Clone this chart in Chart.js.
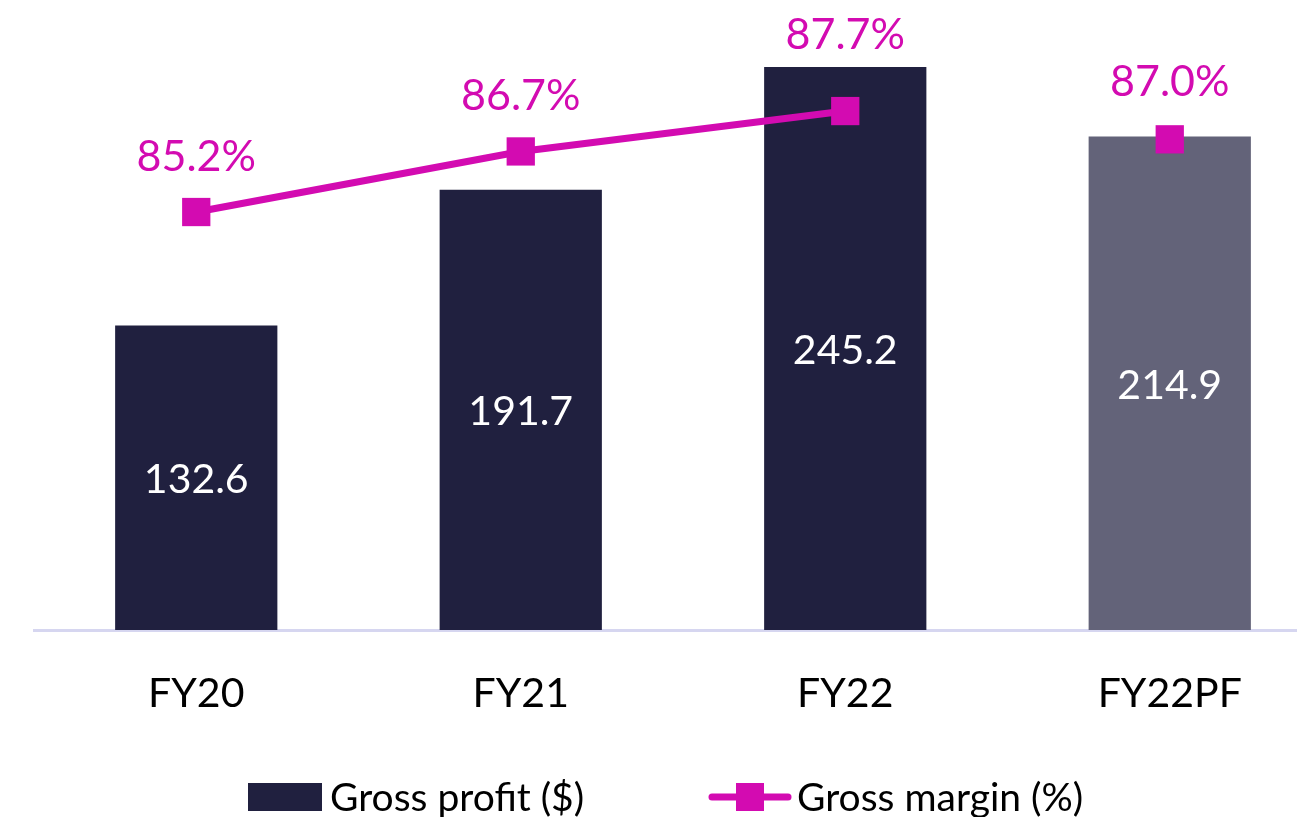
<!DOCTYPE html>
<html lang="en">
<head>
    <meta charset="UTF-8">
    <title>Gross profit and gross margin</title>
    <script src="https://cdn.jsdelivr.net/npm/chart.js"></script>
    <style>
        html, body { margin: 0; padding: 0; background: #fff; overflow: hidden; }
        canvas { display: block; }
    </style>
</head>
<body>
    <canvas id="gpChart" width="1332" height="817"></canvas>

    <script>
        // chart data
        const categories = ['FY20', 'FY21', 'FY22', 'FY22PF'];
        const grossProfit = [132.6, 191.7, 245.2, 214.9];
        const grossMargin = [85.2, 86.7, 87.7, 87.0];
        const marginLabels = ['85.2%', '86.7%', '87.7%', '87.0%'];

        const NAVY = '#20203f';
        const GREY = '#636379';
        const MAGENTA = '#d30bb1';
        const FONT = 'Lato, "Open Sans", sans-serif';

        // draws value labels and the legend
        const labelPlugin = {
            id: 'labels',
            afterDatasetsDraw(chart) {
                const ctx = chart.ctx;
                const lineMeta = chart.getDatasetMeta(0);
                const barMeta = chart.getDatasetMeta(1);
                ctx.save();
                ctx.textAlign = 'center';
                ctx.textBaseline = 'middle';
                ctx.font = '41px ' + FONT;

                ctx.fillStyle = '#ffffff';
                barMeta.data.forEach((bar, i) => {
                    ctx.fillText(grossProfit[i].toFixed(1), bar.x, (bar.y + bar.base) / 2 + 2);
                });

                const lift = [55, 55, 76, 57];
                ctx.font = '43px ' + FONT;
                ctx.fillStyle = MAGENTA;
                lineMeta.data.forEach((pt, i) => {
                    ctx.fillText(marginLabels[i], pt.x, pt.y - lift[i]);
                });

                // legend
                const ly = 797;
                ctx.fillStyle = NAVY;
                ctx.fillRect(248, ly - 14, 74, 28);
                ctx.strokeStyle = MAGENTA;
                ctx.lineWidth = 7;
                ctx.lineCap = 'round';
                ctx.beginPath();
                ctx.moveTo(712, ly);
                ctx.lineTo(788, ly);
                ctx.stroke();
                ctx.fillStyle = MAGENTA;
                ctx.fillRect(736, ly - 14, 28, 28);

                ctx.fillStyle = '#000000';
                ctx.textAlign = 'left';
                ctx.font = '39px ' + FONT;
                ctx.fillText('Gross profit ($)', 330, ly + 1);
                ctx.fillText('Gross margin (%)', 797, ly + 1);
                ctx.restore();
            }
        };

        const ctx = document.getElementById('gpChart').getContext('2d');
        const gpChart = new Chart(ctx, {
            data: {
                labels: categories,
                datasets: [{
                    type: 'line',
                    label: 'Gross margin (%)',
                    data: grossMargin,
                    yAxisID: 'y2',
                    borderColor: MAGENTA,
                    borderWidth: 7,
                    pointStyle: 'rect',
                    pointRadius: 20,
                    pointBackgroundColor: MAGENTA,
                    pointBorderColor: MAGENTA,
                    pointBorderWidth: 0,
                    tension: 0,
                    order: 0,
                    segment: {
                        borderColor: c => c.p1DataIndex === 3 ? 'rgba(0,0,0,0)' : MAGENTA
                    }
                }, {
                    type: 'bar',
                    label: 'Gross profit ($)',
                    data: grossProfit,
                    yAxisID: 'y',
                    backgroundColor: [NAVY, NAVY, NAVY, GREY],
                    categoryPercentage: 0.5,
                    barPercentage: 1,
                    order: 1
                }]
            },
            options: {
                responsive: false,
                animation: false,
                layout: { autoPadding: false, padding: { left: 34, right: 0, top: 0, bottom: 0 } },
                plugins: {
                    legend: { display: false },
                    tooltip: { enabled: false }
                },
                scales: {
                    x: {
                        grid: { display: false },
                        border: { display: true, color: '#d6d6f0', width: 3 },
                        ticks: {
                            color: '#000000',
                            font: { family: FONT, size: 41 },
                            padding: 31
                        },
                        afterFit(scale) { scale.height = 187; }
                    },
                    y: { display: false, min: 0, max: 274.4 },
                    y2: { display: false, min: 74.85, max: 90.45 }
                }
            },
            plugins: [labelPlugin]
        });
    </script>
</body>
</html>
